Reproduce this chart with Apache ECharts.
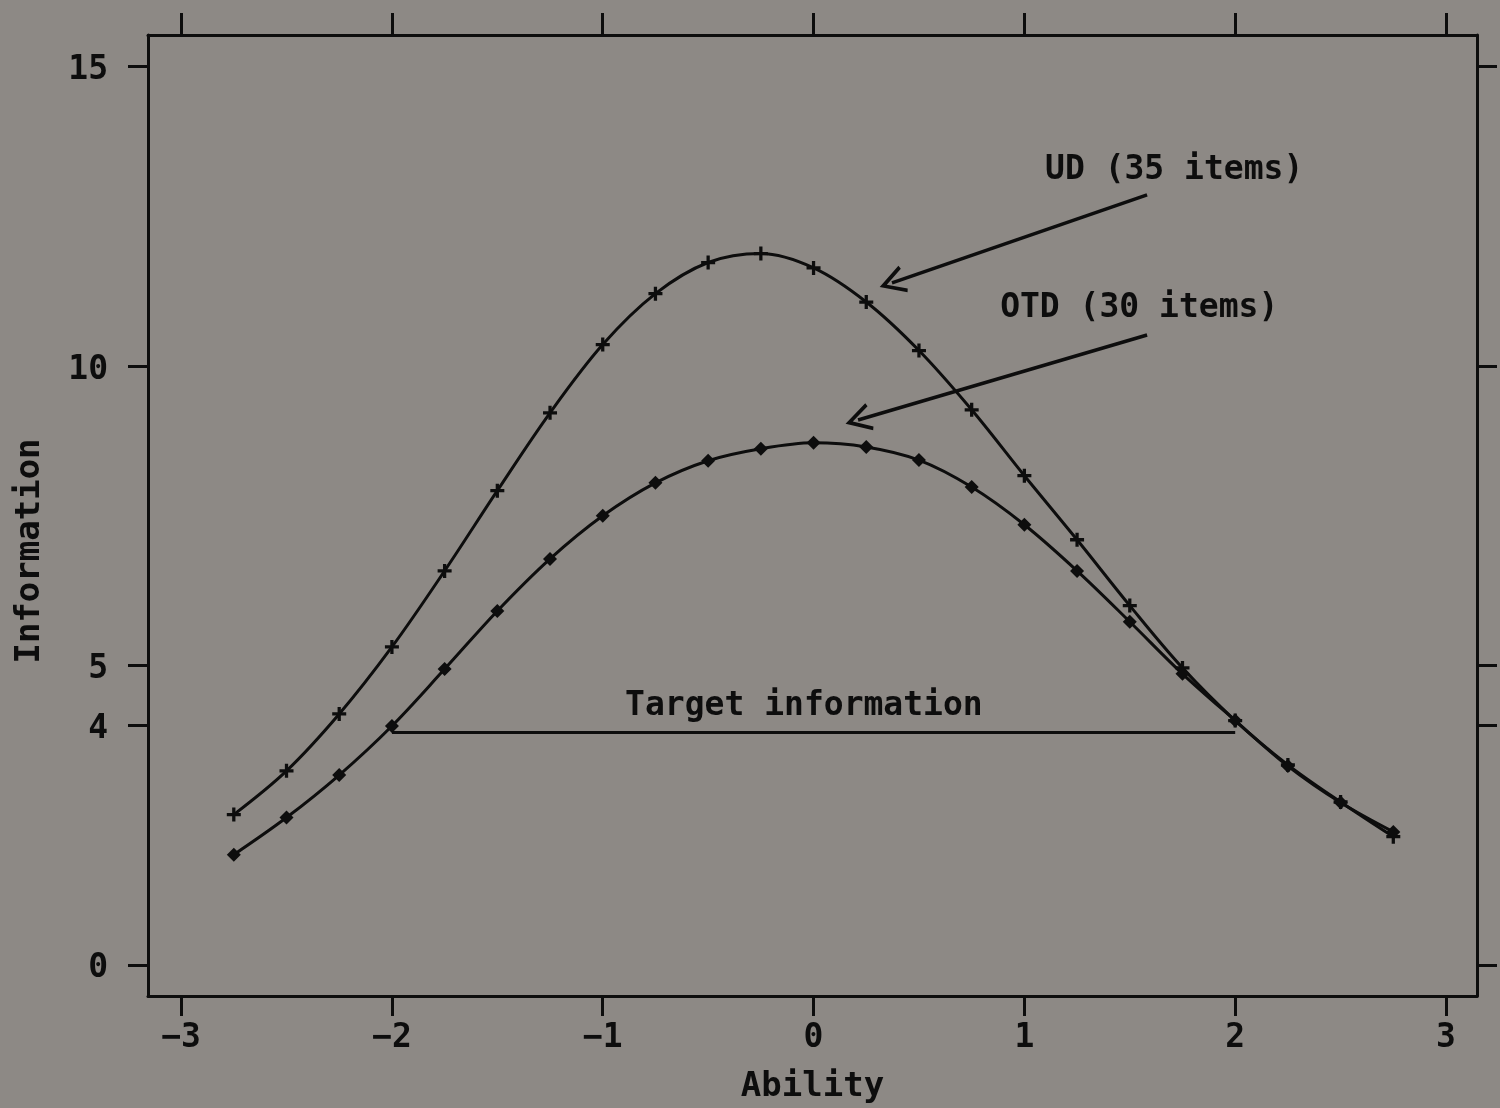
<!DOCTYPE html>
<html>
<head>
<meta charset="utf-8">
<script src="https://cdn.jsdelivr.net/npm/echarts@6/dist/echarts.min.js"></script>
<style>
html,body{margin:0;padding:0;background:#8d8985;}
#c{width:1500px;height:1108px;}
</style>
</head>
<body>
<div id="c"></div>
<script>
const abilities = [-2.75,-2.5,-2.25,-2,-1.75,-1.5,-1.25,-1,-0.75,-0.5,-0.25,0,0.25,0.5,0.75,1,1.25,1.5,1.75,2,2.25,2.5,2.75];
const udInfo  = [2.51,3.24,4.19,5.31,6.58,7.92,9.22,10.36,11.21,11.73,11.88,11.64,11.07,10.26,9.27,8.17,7.10,6.00,4.96,4.08,3.34,2.72,2.14];
const otdInfo = [1.84,2.46,3.17,3.99,4.94,5.91,6.78,7.50,8.05,8.42,8.62,8.72,8.65,8.43,7.98,7.35,6.58,5.73,4.86,4.08,3.32,2.71,2.22];
const targetX = [-2, 2];
const targetY = [3.88, 3.88];
const xTicks = [-3,-2,-1,0,1,2,3];
const yTicks = [0,4,5,10,15];
const labels = [
  {text:'UD (35 items)', x:1.098, y:13.26},
  {text:'OTD (30 items)', x:0.885, y:10.96},
  {text:'Target information', x:-0.894, y:4.31}
];
const arrows = [
  {from:[1.582,12.86], to:[0.372,11.39]},
  {from:[1.582,10.52], to:[0.211,9.10]}
];

const FONT = '"DejaVu Sans Mono", monospace';
const INK = '#0d0d0d';
const plusPath = 'path://M-1.4,-6 L1.4,-6 L1.4,-1.4 L6,-1.4 L6,1.4 L1.4,1.4 L1.4,6 L-1.4,6 L-1.4,1.4 L-6,1.4 L-6,-1.4 L-1.4,-1.4 Z';
const chevron = 'path://M0,0 L14,18 L10.5,19 L0,5.5 L-10.5,19 L-14,18 Z';

const chart = echarts.init(document.getElementById('c'));
const fmt = v => (v < 0 ? '\u2212' + Math.abs(v) : String(v));
const lineAxis = {show:true, onZero:false, lineStyle:{color:INK, width:3}};

chart.setOption({
  backgroundColor: '#8d8985',
  animation: false,
  grid: {left:148, right:23, top:35, bottom:112, containLabel:false, outerBoundsMode:'none'},
  xAxis: [{
    type:'value', min:-3.157, max:3.147, position:'bottom',
    name:'Ability', nameLocation:'middle', nameGap:74,
    nameTextStyle:{fontFamily:FONT, fontSize:34, color:INK, fontWeight:'bold'},
    axisLine:lineAxis,
    axisTick:{show:true, inside:false, length:20, lineStyle:{color:INK, width:3}, customValues:xTicks},
    axisLabel:{show:true, margin:26, fontFamily:FONT, fontSize:33, color:INK, fontWeight:'bold', customValues:xTicks, formatter:fmt},
    splitLine:{show:false}
  },{
    type:'value', min:-3.157, max:3.147, position:'top',
    axisLine:lineAxis,
    axisTick:{show:true, inside:false, length:22, lineStyle:{color:INK, width:3}, customValues:xTicks},
    axisLabel:{show:false},
    splitLine:{show:false}
  }],
  yAxis: [{
    type:'value', min:-0.52, max:15.53, position:'left',
    axisLine:lineAxis,
    axisTick:{show:true, inside:false, length:20, lineStyle:{color:INK, width:3}, customValues:yTicks},
    axisLabel:{show:true, margin:40, fontFamily:FONT, fontSize:33, color:INK, fontWeight:'bold', customValues:yTicks,
      formatter: v => '{a|' + v + '}',
      rich:{a:{fontFamily:FONT, fontSize:33, fontWeight:'bold', color:INK, padding:[8,0,0,0]}}},
    splitLine:{show:false}
  },{
    type:'value', min:-0.52, max:15.53, position:'right',
    axisLine:lineAxis,
    axisTick:{show:true, inside:false, length:20, lineStyle:{color:INK, width:3}, customValues:yTicks},
    axisLabel:{show:false},
    splitLine:{show:false}
  }],
  graphic: [{
    type:'text', x:30, y:551, rotation:Math.PI/2,
    style:{text:'Information', fontFamily:FONT, fontSize:34, fontWeight:'bold', fill:INK, align:'center', verticalAlign:'middle'}
  }],
  series: [
    {
      name:'UD', type:'line', smooth:0.35,
      data: abilities.map((a,i)=>[a, udInfo[i]]),
      symbol: plusPath, symbolSize:14, showAllSymbol:true,
      itemStyle:{color:INK},
      lineStyle:{color:INK, width:3}
    },
    {
      name:'OTD', type:'line', smooth:0.35,
      data: abilities.map((a,i)=>[a, otdInfo[i]]),
      symbol:'diamond', symbolSize:14, showAllSymbol:true,
      itemStyle:{color:INK},
      lineStyle:{color:INK, width:3}
    },
    {
      name:'Target', type:'line',
      data: targetX.map((x,i)=>[x, targetY[i]]),
      symbol:'none',
      lineStyle:{color:INK, width:3},
      markLine:{
        silent:true, animation:false,
        symbol:['none', chevron], symbolSize:[28,26],
        lineStyle:{color:INK, width:3.5, type:'solid'},
        label:{show:false},
        data: arrows.map(a => [{coord:a.from}, {coord:a.to}])
      }
    },
    {
      name:'Labels', type:'scatter', symbolSize:0,
      itemStyle:{opacity:1, color:INK},
      data: labels.map(l => ({value:[l.x, l.y], label:{formatter:l.text}})),
      label:{show:true, position:'right', distance:0, fontFamily:FONT, fontSize:33, fontWeight:'bold', color:INK}
    }
  ]
});
</script>
</body>
</html>
